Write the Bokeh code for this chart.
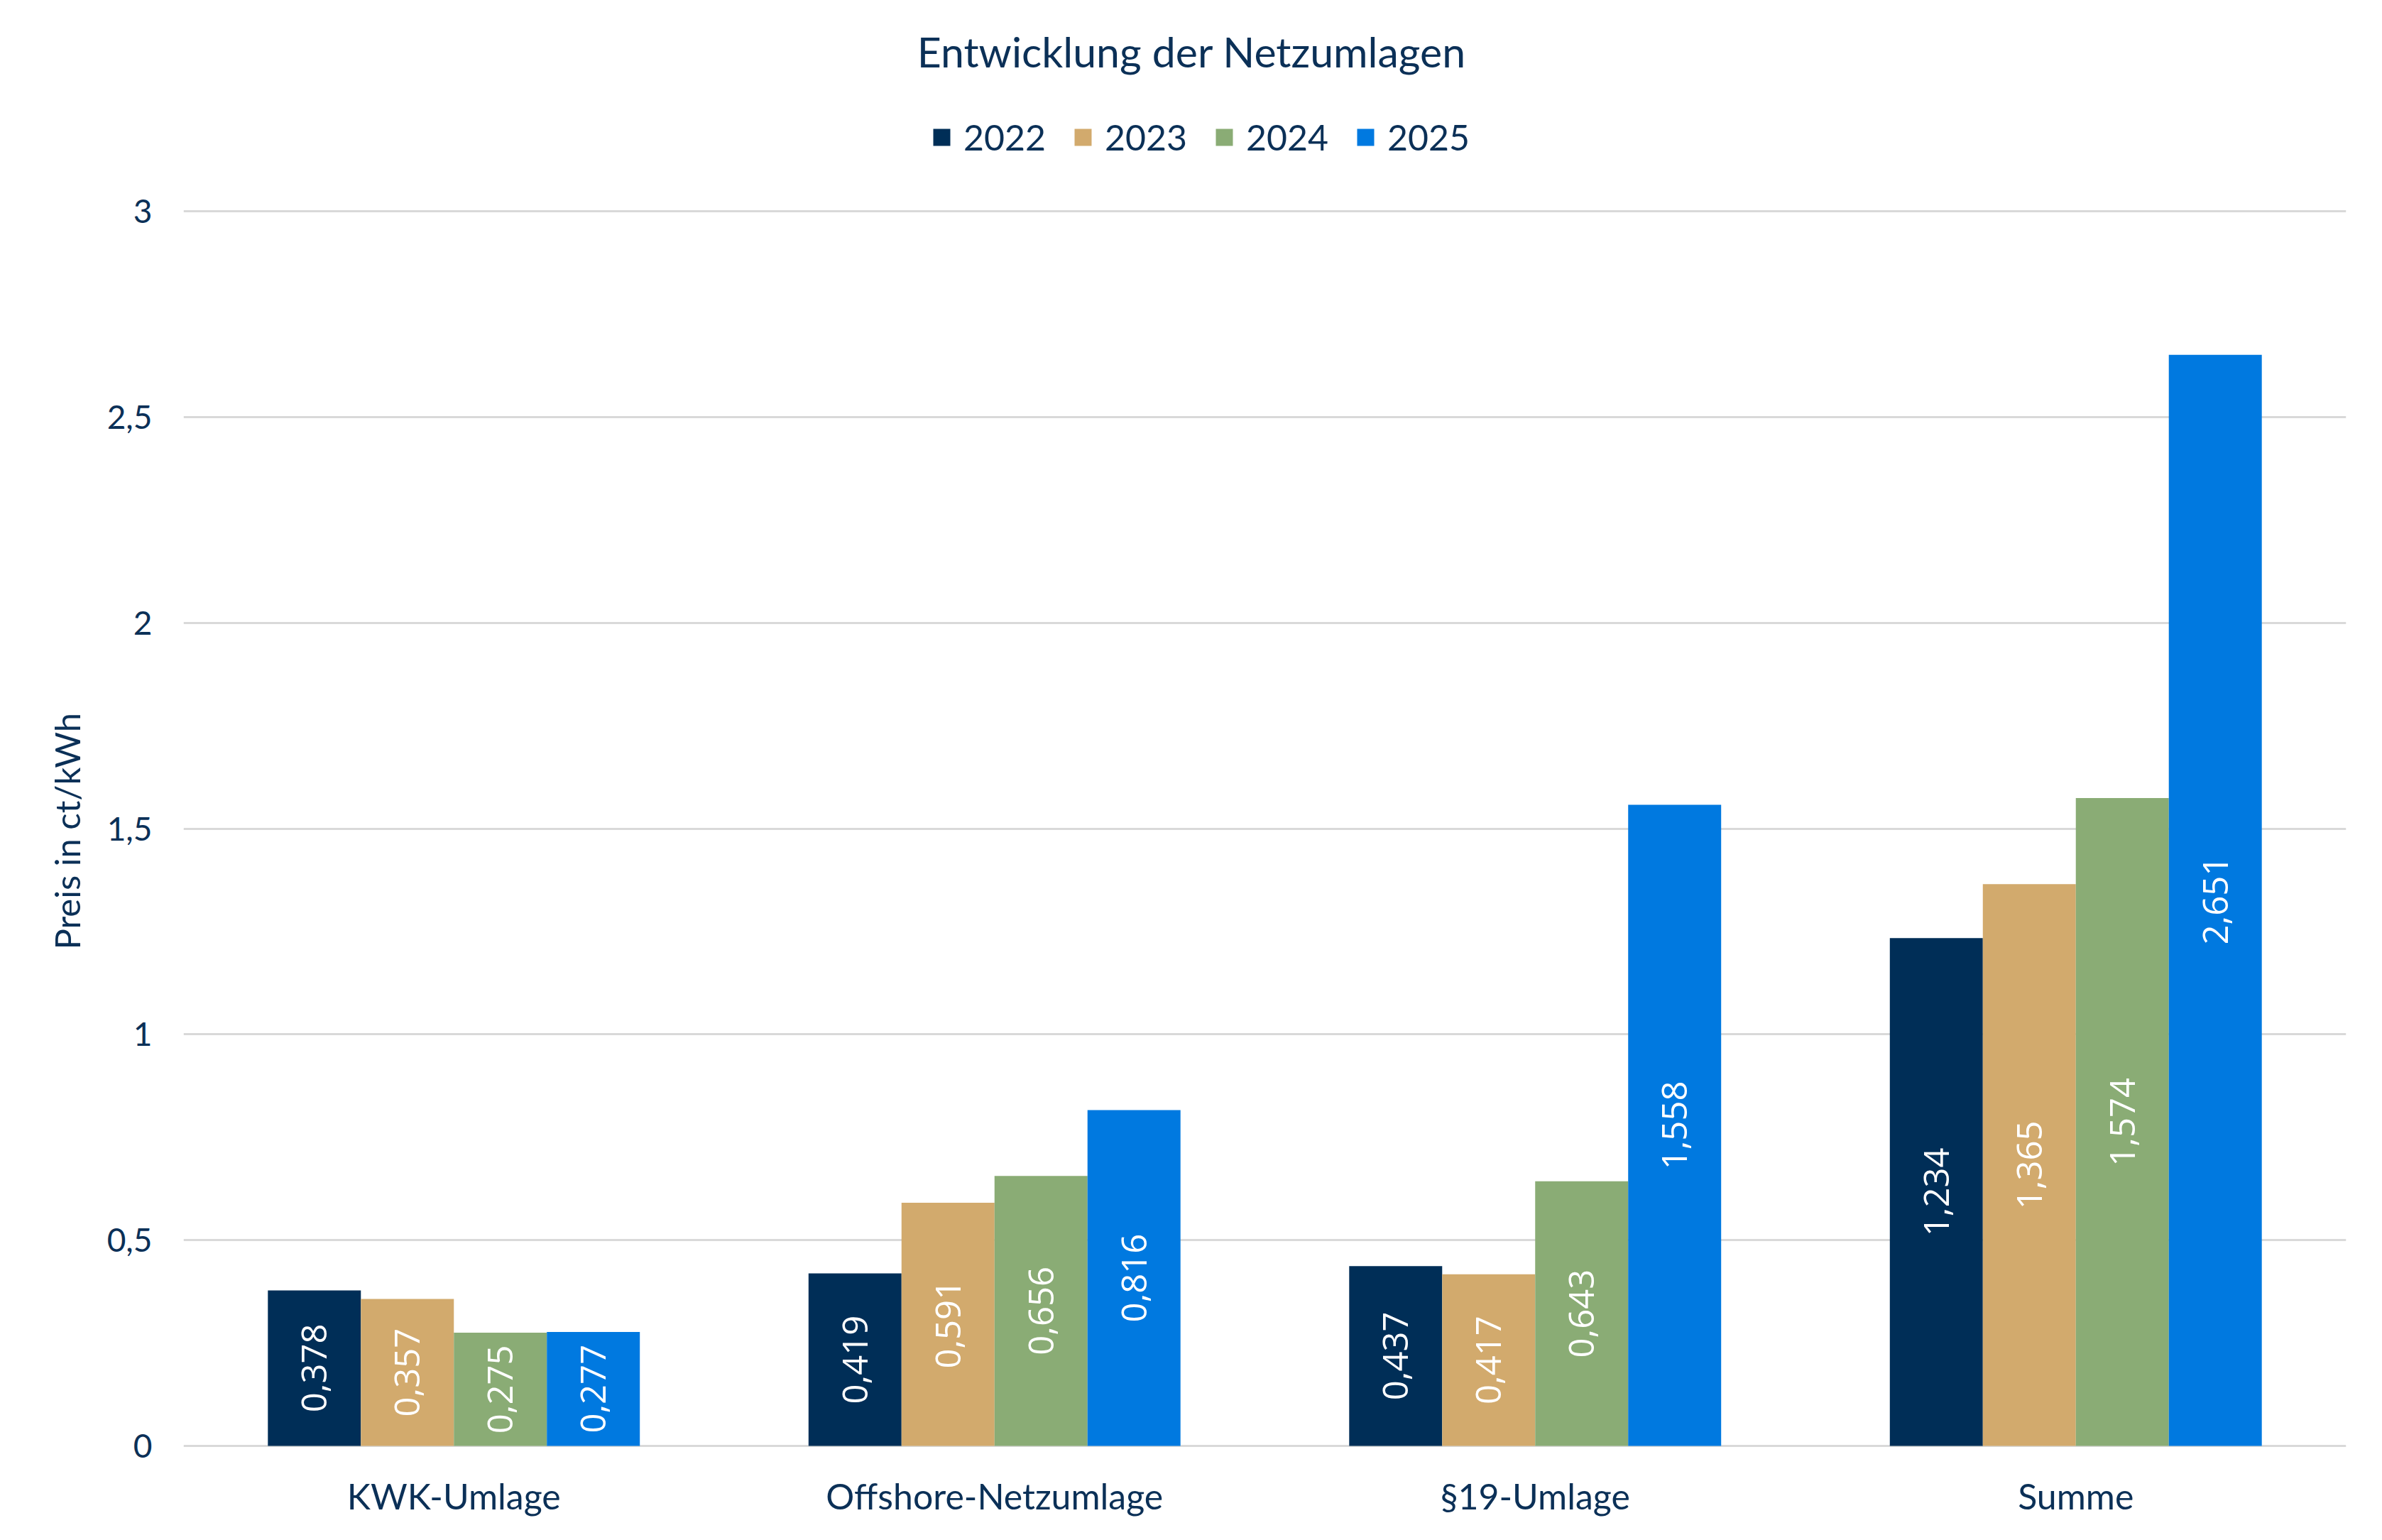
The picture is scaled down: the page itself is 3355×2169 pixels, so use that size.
import math
from bokeh.plotting import figure
from bokeh.models import ColumnDataSource, Range1d, FixedTicker, LabelSet, Legend, LegendItem, Label, Title
from bokeh.core.properties import value
from bokeh.transform import dodge
from bokeh.embed import file_html
from bokeh.resources import INLINE

# ---- data ----
categories = ["KWK-Umlage", "Offshore-Netzumlage", "§19-Umlage", "Summe"]
years = ["2022", "2023", "2024", "2025"]
v2022 = [0.378, 0.419, 0.437, 1.234]
v2023 = [0.357, 0.591, 0.417, 1.365]
v2024 = [0.275, 0.656, 0.643, 1.574]
v2025 = [0.277, 0.816, 1.558, 2.651]
y_ticks = [0, 0.5, 1, 1.5, 2, 2.5, 3]
y_tick_labels = ["0", "0,5", "1", "1,5", "2", "2,5", "3"]
title_text = "Entwicklung der Netzumlagen"
y_label = "Preis in ct/kWh"

# ---- style / layout ----
colors = ["#002E57", "#D2AA6D", "#8AAC75", "#0079E0"]
text_color = "#0B3057"
FONT = "Lato"
LFONT = "Open Sans"

W, H = 3339, 2150
border_left, border_right = 258, 35
frame_bottom = 2040                       # canvas px
border_bottom = H - frame_bottom
zero_px, top_tick_px = 2036, 297          # canvas px of y=0 and y=3
px_per_unit = (zero_px - top_tick_px) / y_ticks[-1]
y_start = -(frame_bottom - zero_px) / px_per_unit
y_end = y_ticks[-1] + top_tick_px / px_per_unit

series = [v2022, v2023, v2024, v2025]
bar_w = 0.172
offsets = [-1.5 * bar_w, -0.5 * bar_w, 0.5 * bar_w, 1.5 * bar_w]

p = figure(width=W, height=H, x_range=categories, y_range=Range1d(y_start, y_end),
           output_backend="svg", toolbar_location=None,
           min_border_left=border_left, min_border_right=border_right,
           min_border_top=0, min_border_bottom=border_bottom)
p.outline_line_color = None
p.background_fill_color = "white"
p.border_fill_color = "white"
p.x_range.range_padding = 0

items = []
for yr, vals, col, off in zip(years, series, colors, offsets):
    src = ColumnDataSource(dict(cat=categories, val=vals,
                                mid=[v / 2 for v in vals],
                                lbl=[f"{v:.3f}".replace(".", ",") for v in vals]))
    r = p.vbar(x=dodge("cat", off, range=p.x_range), top="val", bottom=0, width=bar_w,
               source=src, fill_color=col, line_color=None)
    items.append(LegendItem(label=yr, renderers=[r]))
    ls = LabelSet(x=dodge("cat", off, range=p.x_range), y="mid", text="lbl", source=src,
                  angle=math.pi / 2, text_align="center", text_baseline="middle",
                  text_color="white", text_font=value(LFONT), text_font_size="49px")
    p.add_layout(ls)

legend = Legend(items=items, orientation="horizontal", location=(1053, 1817),
                label_text_font=FONT, label_text_font_size="50px", label_text_color=text_color,
                glyph_width=30, glyph_height=30, label_height=60, label_standoff=16, spacing=37,
                padding=0, margin=0, background_fill_alpha=0, border_line_color=None)
p.add_layout(legend, "center")

title = Label(x=1678 - border_left, y=frame_bottom - 72, x_units="screen", y_units="screen",
              text=title_text, text_align="center", text_baseline="middle",
              text_font=FONT, text_font_size="59px", text_color=text_color)
p.add_layout(title)

# axes
p.yaxis.ticker = FixedTicker(ticks=y_ticks)
p.yaxis.major_label_overrides = {t: l for t, l in zip(y_ticks, y_tick_labels)}
p.yaxis.axis_line_color = None
p.yaxis.major_tick_line_color = None
p.yaxis.minor_tick_line_color = None
p.yaxis.major_label_standoff = 38
p.yaxis.major_label_text_font = FONT
p.yaxis.major_label_text_font_size = "46px"
p.yaxis.major_label_text_color = text_color

# y-axis title, centred on the 0..3 part of the axis
ytitle = Title(text=y_label, align="left", offset=frame_bottom - 1337, standoff=49,
               text_font=FONT, text_font_size="49px", text_font_style="normal",
               text_color=text_color)
p.add_layout(ytitle, "left")

p.xaxis.axis_line_color = None
p.xaxis.major_tick_line_color = None
p.xaxis.minor_tick_line_color = None
p.xaxis.major_label_standoff = 30
p.xaxis.major_label_text_font = FONT
p.xaxis.major_label_text_font_size = "50px"
p.xaxis.major_label_text_color = text_color

p.xgrid.grid_line_color = None
p.ygrid.grid_line_color = "#D9D9D9"
p.ygrid.grid_line_width = 3
p.ygrid.ticker = FixedTicker(ticks=y_ticks)

open("out.html", "w").write(file_html(p, INLINE))
